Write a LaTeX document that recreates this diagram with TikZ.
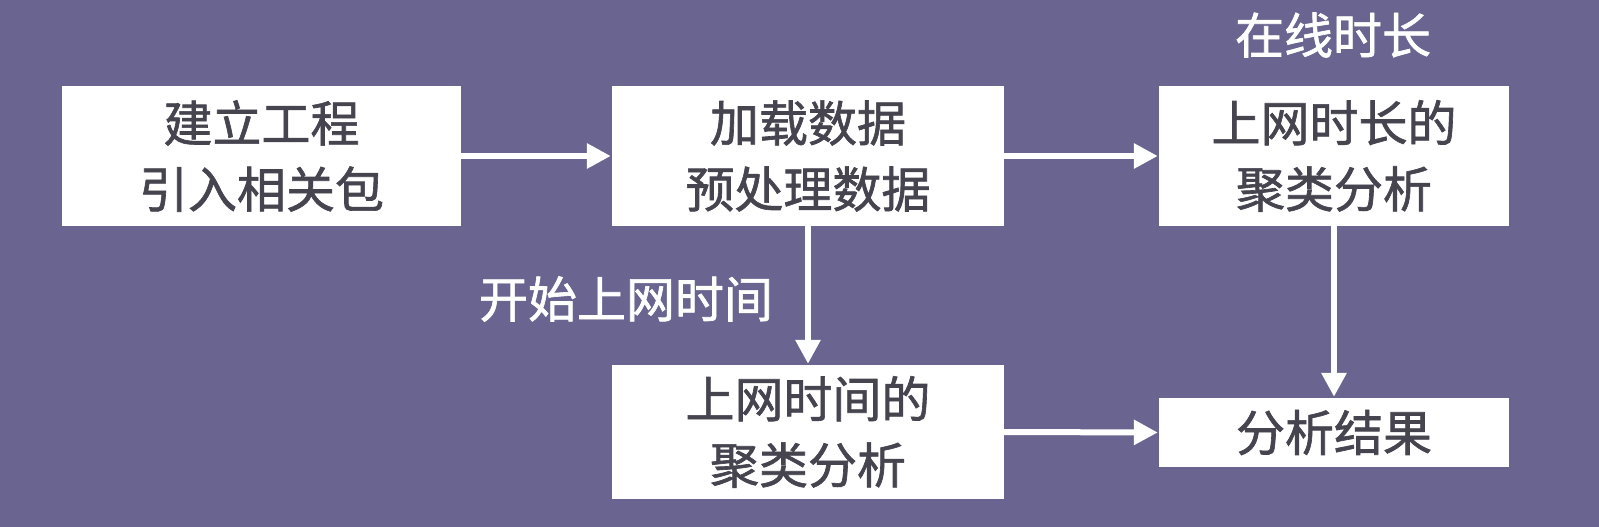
\documentclass[tikz,border=0pt]{standalone}
\usepackage{fontspec}
\newfontfamily\cjk[FakeBold=1.3]{Noto Sans CJK SC}
\usetikzlibrary{arrows.meta}
\definecolor{bgpurple}{HTML}{6A6590}
\definecolor{txtgray}{HTML}{45444F}
\tikzset{
  box/.style={draw=none, fill=white, text=txtgray, inner sep=0pt, align=center,
    font=\cjk\fontsize{49}{66}\selectfont},
  lbl/.style={text=white, inner sep=0pt, font=\cjk\fontsize{49}{66}\selectfont},
  conn/.style={draw=white, line width=6pt,
    -{Triangle[length=24pt,width=24pt]}, shorten >=1pt}
}
\begin{document}
\begin{tikzpicture}[x=1pt,y=-1pt]
\fill[bgpurple] (0,0) rectangle (1599,527);
\useasboundingbox (0,0) rectangle (1599,527);
\node[box, minimum width=399pt, minimum height=140pt] (b1) at (261.5,156) {建立工程\\引入相关包};
\node[box, minimum width=392pt, minimum height=140pt] (b2) at (808,156) {加载数据\\预处理数据};
\node[box, minimum width=350pt, minimum height=140pt] (b3) at (1334,156) {上网时长的\\聚类分析};
\node[box, minimum width=392pt, minimum height=134pt] (b4) at (808,432) {上网时间的\\聚类分析};
\node[box, minimum width=350pt, minimum height=69pt] (b5) at (1334,432.5) {分析结果};
\node[lbl] (l1) at (1333,35) {在线时长};
\node[lbl] (l2) at (626,299) {开始上网时间};
\draw[conn] (b1.east) -- (b2.west);
\draw[conn] (b2.east) -- (b3.west);
\draw[conn] (b2.south) -- (b4.north);
\draw[conn] (b3.south) -- (b5.north);
\draw[conn] (b4.east) -- (b5.west);
\end{tikzpicture}
\end{document}
